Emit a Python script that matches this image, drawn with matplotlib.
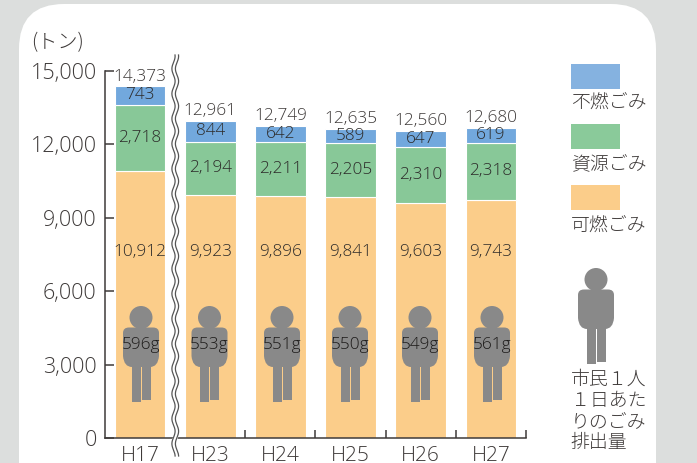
import numpy as np
import matplotlib
matplotlib.use('Agg')
import matplotlib.pyplot as plt
from matplotlib.patches import FancyBboxPatch, Rectangle, Circle, PathPatch
from matplotlib.path import Path
from matplotlib.transforms import Affine2D

years = ['H17', 'H23', 'H24', 'H25', 'H26', 'H27']
burnable = [10912, 9923, 9896, 9841, 9603, 9743]
recycle = [2718, 2194, 2211, 2205, 2310, 2318]
unburnable = [743, 844, 642, 589, 647, 619]
totals = [14373, 12961, 12749, 12635, 12560, 12680]
per_person = ['596g', '553g', '551g', '550g', '549g', '561g']
person_x = [141, 209.5, 282, 350, 420, 492]
yticks = [0, 3000, 6000, 9000, 12000, 15000]

W, H = 697, 463
BG = '#dcdedd'
INK = '#3e3a39'
DARK = '#2c2a29'
ORANGE = '#fbcd8a'
GREEN = '#88c898'
BLUE = '#72a8dd'
GREY = '#898989'
JP = ['Noto Sans CJK JP', 'DejaVu Sans']

plt.rcParams['font.family'] = ['Open Sans', 'Noto Sans CJK JP', 'DejaVu Sans']
plt.rcParams['font.weight'] = 'light'

fig = plt.figure(figsize=(W / 100, H / 100), dpi=100, facecolor=BG)

# everything that is not data is placed in image pixels
px = Affine2D().scale(1 / W, -1 / H).translate(0, 1) + fig.transFigure

fig.add_artist(FancyBboxPatch((19 + 45, 4 + 45), 637 - 90, 600, boxstyle='round,pad=45,rounding_size=45',
                              transform=px, fc='white', ec='none', zorder=0))

ax = fig.add_axes([105 / W, 1 - 438 / H, (526 - 105) / W, 367 / H])
ax.patch.set_alpha(0)
ax.set_xlim(-0.5, 5.5)
ax.set_ylim(0, 15000)

x = np.arange(len(years))
burn = np.array(burnable)
rec = np.array(recycle)
unb = np.array(unburnable)
ax.bar(x, burn, 0.72, color=ORANGE, edgecolor='white', linewidth=0.8, zorder=2)
ax.bar(x, rec, 0.72, bottom=burn, color=GREEN, edgecolor='white', linewidth=0.8, zorder=2)
ax.bar(x, unb, 0.72, bottom=burn + rec, color=BLUE, edgecolor='white', linewidth=0.8, zorder=2)

for i in x:
    ax.text(i, 7600, f'{burn[i]:,}', ha='center', va='center', fontsize=12.4, color=DARK, zorder=5)
    ax.text(i, burn[i] + rec[i] / 2, f'{rec[i]:,}', ha='center', va='center', fontsize=12.4, color=DARK, zorder=5)
    ax.text(i, burn[i] + rec[i] + unb[i] / 2, f'{unb[i]:,}', ha='center', va='center', fontsize=12.4, color=DARK, zorder=5)
    ax.text(i, totals[i] + 70, f'{totals[i]:,}', ha='center', va='bottom', fontsize=12.4, color=INK, zorder=5)

for s in ['top', 'right']:
    ax.spines[s].set_visible(False)
for s in ['left', 'bottom']:
    ax.spines[s].set_color(INK)
    ax.spines[s].set_linewidth(1.1)
ax.set_yticks(yticks)
ax.set_yticklabels([f'{v:,}' for v in yticks])
ax.tick_params(axis='y', direction='in', length=6.5, width=1.1, color=INK, labelsize=15.5, labelcolor=INK, pad=6)
ax.set_xticks(x)
ax.set_xticklabels(years)
ax.tick_params(axis='x', length=0, labelsize=15, labelcolor=INK, pad=6)
ax.set_xticks(x[1:] + 0.5, minor=True)
ax.tick_params(axis='x', which='minor', direction='in', length=6, width=1.1, color=INK)


def person(cx, top, z=6):
    # top is the top of the head, all sizes in pixels
    y = top
    fig.add_artist(Circle((cx, y + 11.5), 11.5, transform=px, fc=GREY, ec='none', zorder=z))
    verts = [(cx - 18, y + 27), (cx - 18, y + 21.5), (cx - 12, y + 21.5), (cx + 12, y + 21.5),
             (cx + 18, y + 21.5), (cx + 18, y + 27), (cx + 18, y + 50), (cx + 17, y + 61),
             (cx + 9, y + 61), (cx - 9, y + 61), (cx - 17, y + 61), (cx - 18, y + 50), (cx - 18, y + 27)]
    codes = [Path.MOVETO, Path.CURVE3, Path.CURVE3, Path.LINETO, Path.CURVE3, Path.CURVE3, Path.LINETO,
             Path.CURVE3, Path.CURVE3, Path.LINETO, Path.CURVE3, Path.CURVE3, Path.LINETO]
    fig.add_artist(PathPatch(Path(verts, codes), transform=px, fc=GREY, ec='none', zorder=z, lw=0))
    fig.add_artist(Rectangle((cx - 9.5, y + 55), 9, 40.5, transform=px, fc=GREY, ec='none', zorder=z))
    fig.add_artist(Rectangle((cx + 0.8, y + 55), 9, 39, transform=px, fc=GREY, ec='none', zorder=z))


for cx, label in zip(person_x, per_person):
    person(cx, 306)
    fig.text(cx, 345, label, transform=px, ha='center', va='center', fontsize=12.4, color='#1c1a19', zorder=7)

# axis break between H17 and H23
wy = np.linspace(55, 456, 500)
wx = 1.6 * np.sin(wy / 25 * 2 * np.pi)
fig.add_artist(plt.Line2D(wx + 175.5, wy, transform=px, color='white', lw=3.5, zorder=3))
fig.add_artist(plt.Line2D(wx + 173.5, wy, transform=px, color='#555555', lw=0.9, zorder=4))
fig.add_artist(plt.Line2D(wx + 177, wy, transform=px, color='#555555', lw=0.9, zorder=4))

fig.text(31, 43, '(トン)', transform=px, ha='left', va='center', fontsize=14.5, color=INK, family=JP)

# legend
legend_items = [(64, 103, '#85b2e0', '不燃ごみ'), (124, 164, '#8aca9a', '資源ごみ'), (185, 226, ORANGE, '可燃ごみ')]
for top, text_y, color, name in legend_items:
    fig.add_artist(Rectangle((571, top), 49, 25, transform=px, fc=color, ec='none', zorder=2))
    fig.text(571, text_y, name, transform=px, ha='left', va='center', fontsize=13.6, color=INK, family=JP, zorder=2)

person(596, 268)
note = ['市民１人', '１日あた', 'りのごみ', '排出量']
for i, line in enumerate(note):
    fig.text(570.5, 380 + i * 21, line, transform=px, ha='left', va='center', fontsize=13.6, color=INK, family=JP, zorder=2)

fig.savefig('out.png', dpi=100, facecolor=BG)
